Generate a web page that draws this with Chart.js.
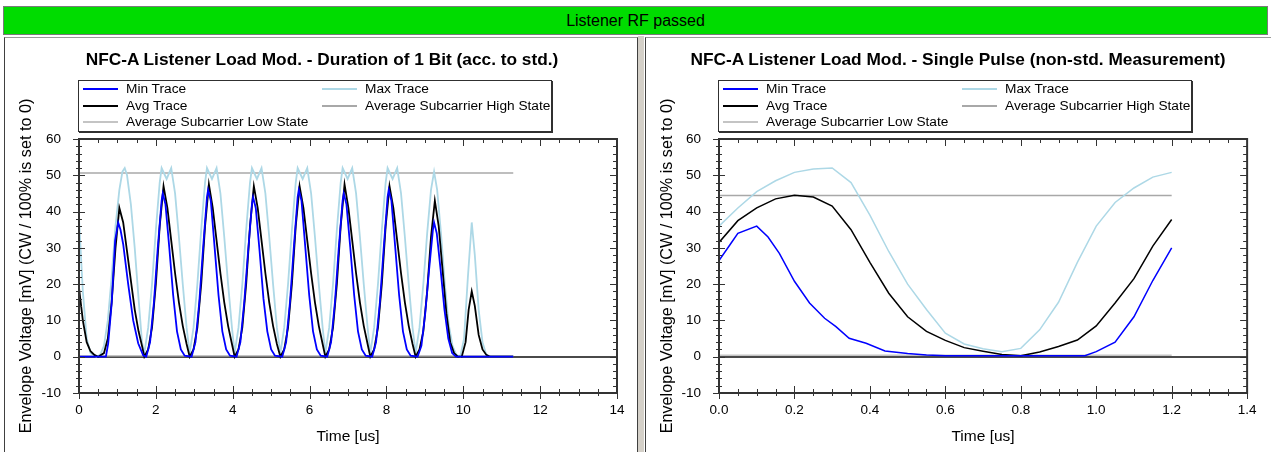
<!DOCTYPE html>
<html>
<head>
<meta charset="utf-8">
<script src="https://cdn.jsdelivr.net/npm/chart.js@4.4.1/dist/chart.umd.min.js"></script>
<style>
html,body{margin:0;padding:0;background:#fff;width:1271px;height:452px;overflow:hidden;font-family:'Liberation Sans',Arial,sans-serif;}
#banner{position:absolute;left:3px;top:6px;width:1263px;height:27px;background:#00dc00;border:1px solid #7a7a7a;color:#000;font-size:16px;line-height:27px;text-align:center;}
.panel{position:absolute;top:37px;height:420px;background:#fff;border-top:1px solid #9a9a9a;}
#p1{left:4px;width:632px;border-left:1px solid #404040;border-right:1px solid #404040;}
#p2{left:645px;width:626px;border-left:1px solid #404040;}
#gap{position:absolute;left:638px;top:36px;width:6px;height:416px;background:#d4d0c8;}
canvas{position:absolute;top:38px;}
#c1{left:5px;}
#c2{left:646px;}
.ttl{position:absolute;top:49px;width:700px;margin-left:-350px;text-align:center;font-size:17.3px;font-weight:bold;line-height:20px;color:#000;white-space:nowrap;}
.legend{position:absolute;top:80px;height:50px;width:472px;border:1px solid #303030;box-shadow:1px 1px 0 #303030;background:#fff;font-size:13.7px;color:#000;}
.item{position:absolute;height:16.5px;line-height:16.5px;white-space:nowrap;}
.item i{position:absolute;left:0;top:7px;width:35px;height:2px;display:block;}
.item span{position:absolute;left:43px;top:0;}
</style>
</head>
<body>
<div id="banner">Listener RF passed</div>
<div id="gap"></div>
<div class="panel" id="p1"></div>
<div class="panel" id="p2"></div>
<canvas id="c1" width="631" height="414"></canvas>
<canvas id="c2" width="620" height="414"></canvas>
<div class="ttl" style="left:322px">NFC-A Listener Load Mod. - Duration of 1 Bit (acc. to std.)</div>
<div class="ttl" style="left:958px">NFC-A Listener Load Mod. - Single Pulse (non-std. Measurement)</div>
<div class="legend" id="lg1" style="left:78px"></div>
<div class="legend" id="lg2" style="left:718px"></div>
<script>
// ---------- DATA ----------
const seriesNames = ['Min Trace', 'Max Trace', 'Avg Trace', 'Average Subcarrier High State', 'Average Subcarrier Low State'];
const yTickValues = [-10, 0, 10, 20, 30, 40, 50, 60];
const yTickLabels = ['-10', '0', '10', '20', '30', '40', '50', '60'];
const leftXTickValues = [0, 2, 4, 6, 8, 10, 12, 14];
const leftXTickLabels = ['0', '2', '4', '6', '8', '10', '12', '14'];
const rightXTickValues = [0, 0.2, 0.4, 0.6, 0.8, 1.0, 1.2, 1.4];
const rightXTickLabels = ['0.0', '0.2', '0.4', '0.6', '0.8', '1.0', '1.2', '1.4'];

// Left chart: Duration of 1 Bit
const leftMinT = [0,0.7,0.76,0.85,0.94,1.02,1.08,1.15,1.28,1.41,1.54,1.67,
  1.75,1.85,1.95,2.05,2.15,2.18,2.25,2.35,2.45,2.55,2.65,2.75,
  2.93,3.03,3.13,3.23,3.33,3.36,3.43,3.53,3.63,3.73,3.83,3.93,
  4.1,4.2,4.3,4.4,4.5,4.53,4.6,4.7,4.8,4.9,5.0,5.1,
  5.29,5.39,5.49,5.59,5.69,5.72,5.79,5.89,5.99,6.09,6.19,6.29,
  6.46,6.56,6.66,6.76,6.86,6.89,6.96,7.06,7.16,7.26,7.36,7.46,
  7.63,7.73,7.83,7.93,8.03,8.06,8.13,8.23,8.33,8.43,8.53,8.63,
  8.81,8.91,9.01,9.11,9.21,9.24,9.31,9.41,9.51,9.61,9.71,9.81,
  11.3];
const leftMinV = [0,0,3.7,14.7,32,37,35,31,20,10,3.7,0.4,
  0,4,15,30,43,45,42,30,17,7,2,0.3,
  0,4,15,30,44,46,43,30,17,7,2,0.3,
  0,4,15,29,42,44,41,29,16,7,2,0.3,
  0,4,15,30,44,46,43,30,17,7,2,0.3,
  0,4,15,30,43,45,42,30,17,7,2,0.3,
  0,4,15,30,44,46,43,30,17,7,2,0.3,
  0,3,12,24,35,37,34,24,13,5,1,0,
  0];
const leftMaxT = [0,0.1,0.2,0.3,0.45,0.55,0.65,0.75,0.85,0.95,1.05,1.13,1.19,1.25,1.35,1.45,1.55,1.64,
  1.7,1.8,1.9,2.0,2.1,2.15,2.28,2.4,2.5,2.6,2.7,2.8,
  2.88,2.98,3.08,3.18,3.28,3.33,3.46,3.58,3.68,3.78,3.88,3.98,
  4.05,4.15,4.25,4.35,4.45,4.5,4.63,4.75,4.85,4.95,5.05,5.15,
  5.24,5.34,5.44,5.54,5.64,5.69,5.82,5.94,6.04,6.14,6.24,6.34,
  6.41,6.51,6.61,6.71,6.81,6.86,6.99,7.11,7.21,7.31,7.41,7.51,
  7.58,7.68,7.78,7.88,7.98,8.03,8.16,8.28,8.38,8.48,8.58,8.68,
  8.76,8.86,8.96,9.06,9.16,9.24,9.32,9.42,9.52,9.62,9.72,9.82,
  9.92,10.02,10.12,10.22,10.3,10.4,10.5,10.6,10.7,11.3];
const leftMaxV = [38,18,5,1,0,0.5,3,10,22,36,46,51,52,50,42,30,16,4,
  1,8,20,35,48,52,49,52,45,33,20,8,
  1,8,20,35,48,52,49,52,45,33,20,8,
  1,8,20,35,48,52,49,52,45,33,20,8,
  1,8,20,35,48,52,49,52,45,33,20,8,
  1,8,20,35,48,52,49,52,45,33,20,8,
  1,8,20,35,48,52,49,52,45,33,20,8,
  1,8,20,34,46,51,46,34,20,9,3,0.5,
  0,5,22,37,28,13,4,0.5,0,0];
const leftAvgT = [0,0.1,0.2,0.3,0.4,0.5,
  0.65,0.75,0.85,0.95,1.05,1.15,1.25,1.35,1.45,1.55,1.65,
  1.7,1.8,1.9,2.0,2.1,2.2,2.3,2.4,2.5,2.6,2.7,2.8,
  2.88,2.98,3.08,3.18,3.28,3.38,3.48,3.58,3.68,3.78,3.88,3.98,
  4.05,4.15,4.25,4.35,4.45,4.55,4.65,4.75,4.85,4.95,5.05,5.15,
  5.24,5.34,5.44,5.54,5.64,5.74,5.84,5.94,6.04,6.14,6.24,6.34,
  6.41,6.51,6.61,6.71,6.81,6.91,7.01,7.11,7.21,7.31,7.41,7.51,
  7.58,7.68,7.78,7.88,7.98,8.08,8.18,8.28,8.38,8.48,8.58,8.68,
  8.76,8.86,8.96,9.06,9.16,9.26,9.36,9.46,9.56,9.66,9.76,9.86,
  9.96,10.06,10.14,10.22,10.3,10.4,10.5,10.6,10.7,11.3];
const leftAvgV = [19,10,4,1.5,0.5,0,
  1,5,15,30,41,37,29,21,13,7,2.5,
  0,2,8,20,36,47,41,32,23,15,8.5,3.5,
  0,2,8,20,36,47.5,41,32,23,15,8.5,3.5,
  0,2,8,20,36,47,41,32,23,15,8.5,3.5,
  0,2,8,20,36,47,41,32,23,15,8.5,3.5,
  0,2,8,20,36,47.5,41,32,23,15,8.5,3.5,
  0,2,8,20,36,47,41,32,23,15,8.5,3.5,
  0,2,7,18,33,43,36,24,12,4,1,0,
  0,4,13,18,14,6,2,0.5,0,0];
const leftStateT = [0, 11.3];
const leftHighV = [50.6, 50.6];
const leftLowV = [0.3, 0.3];

// Right chart: Single Pulse
const rightT = [0,0.05,0.1,0.15,0.2,0.25,0.3,0.35,0.4,0.45,0.5,0.55,0.6,0.65,0.7,0.75,0.8,0.85,0.9,0.95,1.0,1.05,1.1,1.15,1.2];
const rightMaxV = [36,41,45.5,48.5,50.8,51.7,52,48,39,29,20,13,6.5,3.5,2.2,1.4,2.3,7.4,15,26,36,42.5,46.5,49.5,50.8];
const rightAvgV = [31.5,37.5,41,43.5,44.5,44,41.5,35,26,17.5,11,7,4.5,2.5,1.5,0.6,0.3,1.3,2.8,4.6,8.5,14.8,21.5,30.5,37.8];
const rightMinT = [0,0.03,0.05,0.1,0.13,0.16,0.2,0.24,0.28,0.31,0.345,0.39,0.44,0.5,0.55,0.6,0.97,1.0,1.05,1.1,1.15,1.2];
const rightMinV = [26.5,31,34,36,33,28.5,20.8,14.8,10.6,8.3,5.1,3.7,1.6,0.9,0.5,0.3,0.3,1.4,4,11,21,30];
const rightStateT = [0, 1.2];
const rightHighV = [44.4, 44.4];
const rightLowV = [0.4, 0.4];

// ---------- STYLE ----------
const FONT = "'Liberation Sans', Arial, sans-serif";
const seriesColors = ['#0000ff', '#add8e6', '#000000', '#a8a8a8', '#c4c4c4'];
const seriesOrder = [0, 2, 1, 3, 4];

function pts(ts, vs) { return ts.map((t, i) => ({ x: t, y: vs[i] })); }

const framePlugin = {
  id: 'frame',
  beforeDatasetsDraw(chart) {
    const { ctx, chartArea: a, scales: { y } } = chart;
    const y0 = Math.round(y.getPixelForValue(0));
    ctx.save();
    ctx.strokeStyle = '#4a4a4a';
    ctx.lineWidth = 2;
    ctx.beginPath();
    ctx.moveTo(a.left, y0);
    ctx.lineTo(a.right, y0);
    ctx.stroke();
    ctx.restore();
  },
  afterDatasetsDraw(chart, args, o) {
    const { ctx, chartArea: a, scales: { x, y } } = chart;
    ctx.save();
    ctx.strokeStyle = '#333333';
    ctx.lineWidth = 2;
    ctx.strokeRect(a.left, a.top, a.right - a.left, a.bottom - a.top);
    ctx.lineWidth = 1;
    ctx.beginPath();
    const n = Math.round((x.max - x.min) / o.xMinor);
    for (let k = 0; k <= n; k++) {
      const px = Math.round(x.getPixelForValue(x.min + k * o.xMinor)) + 0.5;
      const major = k % o.xPer === 0;
      const L = major ? 7 : 4;
      ctx.moveTo(px, a.top); ctx.lineTo(px, a.top + L);
      ctx.moveTo(px, a.bottom - L); ctx.lineTo(px, a.bottom + (major ? 6 : 3));
    }
    const m = Math.round((y.max - y.min) / o.yMinor);
    for (let k = 0; k <= m; k++) {
      const py = Math.round(y.getPixelForValue(y.min + k * o.yMinor)) + 0.5;
      const major = k % o.yPer === 0;
      const L = major ? 6 : 3;
      ctx.moveTo(a.left - L, py); ctx.lineTo(a.left + L, py);
      ctx.moveTo(a.right - (major ? 7 : 4), py); ctx.lineTo(a.right, py);
    }
    ctx.stroke();
    ctx.restore();
  }
};

function makeChart(id, legendId, cfg) {
  const datasets = cfg.series.map((s, i) => ({
    label: seriesNames[i],
    data: s,
    borderColor: seriesColors[i],
    backgroundColor: seriesColors[i],
    borderWidth: i < 3 ? cfg.traceWidth : 1.5,
    pointRadius: 0,
    tension: 0,
    fill: false,
    order: seriesOrder[i]
  }));
  const chart = new Chart(document.getElementById(id), {
    type: 'line',
    data: { datasets },
    plugins: [framePlugin],
    options: {
      responsive: false,
      animation: false,
      devicePixelRatio: 1,
      layout: { padding: { left: 8, right: cfg.padRight, top: 101, bottom: 0 } },
      plugins: {
        legend: { display: false },
        tooltip: { enabled: false },
        title: { display: false },
        frame: { xMinor: cfg.xMinor, xPer: 4, yMinor: 2, yPer: 5 }
      },
      scales: {
        x: {
          type: 'linear',
          min: cfg.xTicks[0],
          max: cfg.xTicks[cfg.xTicks.length - 1],
          afterBuildTicks: s => { s.ticks = cfg.xTicks.map(v => ({ value: v })); },
          afterFit: s => { s.height = 59; },
          grid: { display: false, drawTicks: false },
          border: { display: false },
          ticks: {
            autoSkip: false, maxRotation: 0, padding: 9.5, color: '#000',
            font: { family: FONT, size: 13.5 },
            callback: (v, i) => cfg.xLabels[i]
          },
          title: { display: true, text: 'Time [us]', color: '#000', font: { family: FONT, size: 15.5 }, padding: { top: 0, bottom: 5.7 } }
        },
        y: {
          type: 'linear',
          min: -10,
          max: 60,
          afterBuildTicks: s => { s.ticks = yTickValues.map(v => ({ value: v })); },
          afterFit: s => { s.width = cfg.yWidth; },
          grid: { display: false, drawTicks: false },
          border: { display: false },
          ticks: {
            padding: 18, color: '#000',
            font: { family: FONT, size: 13.5 },
            callback: (v, i) => yTickLabels[i]
          },
          title: { display: true, text: 'Envelope Voltage [mV] (CW / 100% is set to 0)', color: '#000', font: { family: FONT, size: 16.2 }, padding: { top: 4, bottom: 0 } }
        }
      }
    }
  });
  // legend (HTML) built from the chart datasets
  const slots = [[0, 0], [1, 0], [0, 1], [1, 1], [0, 2]];
  const lg = document.getElementById(legendId);
  chart.data.datasets.forEach((ds, i) => {
    const it = document.createElement('div');
    it.className = 'item';
    it.style.left = (slots[i][0] ? 243 : 4) + 'px';
    it.style.top = (slots[i][1] * 16.5) + 'px';
    const ln = document.createElement('i');
    ln.style.backgroundColor = ds.borderColor;
    const tx = document.createElement('span');
    tx.textContent = ds.label;
    it.appendChild(ln); it.appendChild(tx);
    lg.appendChild(it);
  });
  return chart;
}

makeChart('c1', 'lg1', {
  series: [pts(leftMinT, leftMinV), pts(leftMaxT, leftMaxV), pts(leftAvgT, leftAvgV), pts(leftStateT, leftHighV), pts(leftStateT, leftLowV)],
  xTicks: leftXTickValues, xLabels: leftXTickLabels, xMinor: 0.5, yWidth: 66, padRight: 19, traceWidth: 1.8
});
makeChart('c2', 'lg2', {
  series: [pts(rightMinT, rightMinV), pts(rightT, rightMaxV), pts(rightT, rightAvgV), pts(rightStateT, rightHighV), pts(rightStateT, rightLowV)],
  xTicks: rightXTickValues, xLabels: rightXTickLabels, xMinor: 0.05, yWidth: 65, padRight: 14, traceWidth: 1.5
});
</script>
</body>
</html>
